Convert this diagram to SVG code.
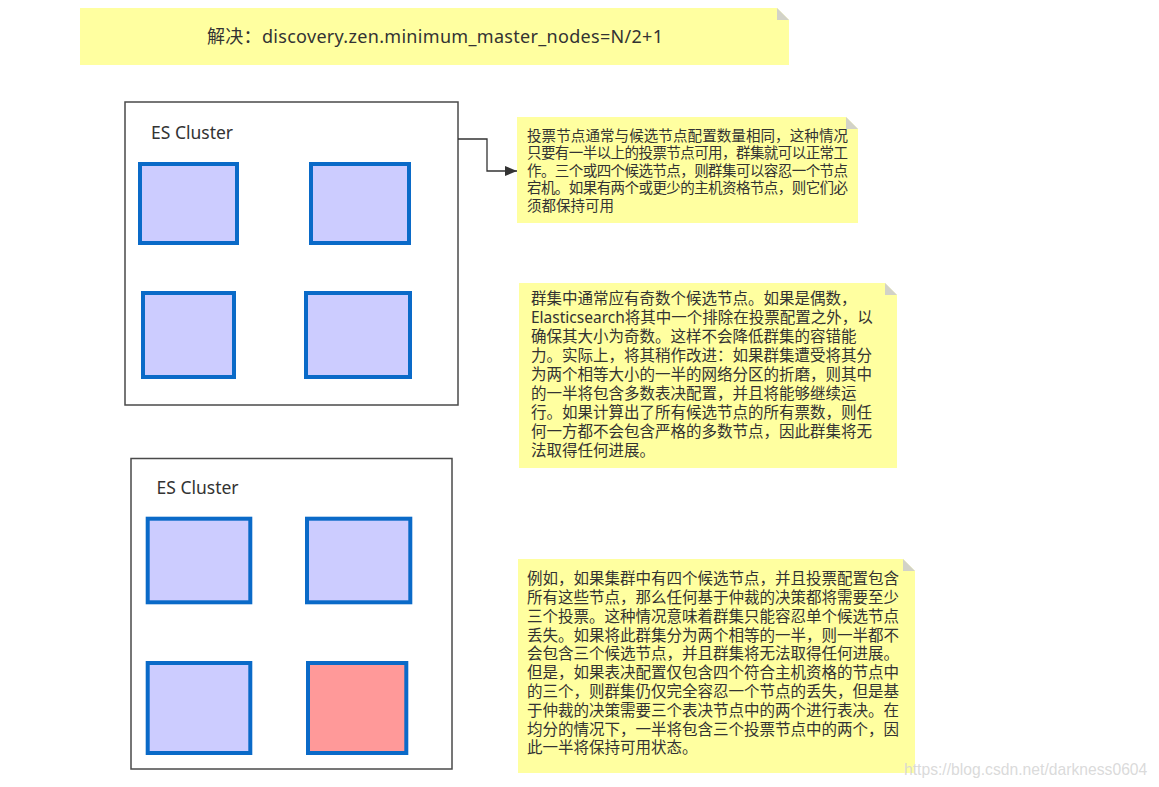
<svg xmlns="http://www.w3.org/2000/svg" width="1159" height="787" viewBox="0 0 1159 787">
<defs>
<style>
.note{fill:#ffffa0;stroke:none}
.fold{fill:#d2d2c8;stroke:none}
.cluster{fill:#ffffff;stroke:#4a4a4a;stroke-width:1.5}
.node{fill:#ccccff;stroke:#0a6ac8;stroke-width:4}
.node.down{fill:#ff9999}
.lbl{font-family:"Noto Sans","Noto Sans CJK SC",sans-serif;fill:#333333}
.t1{font-family:"Noto Sans","Noto Sans CJK SC",sans-serif;font-size:14.5px;fill:#333333}
.t2{font-family:"Noto Sans","Noto Sans CJK SC",sans-serif;font-size:15.5px;fill:#333333}
.conn{fill:none;stroke:#333333;stroke-width:1.3}
</style>
<marker id="arr" viewBox="0 0 12 10" refX="12" refY="5" markerWidth="12" markerHeight="10" markerUnits="userSpaceOnUse" orient="auto">
<path d="M0,0 L12,5 L0,10 Z" fill="#333333"/>
</marker>
</defs>
<rect width="1159" height="787" fill="#ffffff"/>

<g id="title-note">
<path class="note" d="M80,8 H777 L789,20 V65 H80 Z"/>
<path class="fold" d="M777,8 V20 H789 Z"/>
<text class="lbl" x="207" y="42.5" font-size="18" textLength="456" lengthAdjust="spacing">解决：discovery.zen.minimum_master_nodes=N/2+1</text>
</g>

<g id="cluster1">
<rect class="cluster" x="125" y="102" width="333" height="303"/>
<text class="lbl" x="151" y="139" font-size="17.5">ES Cluster</text>
</g>
<g id="c1-node1"><rect class="node" x="140" y="164" width="97" height="79"/></g>
<g id="c1-node2"><rect class="node" x="311" y="164" width="98" height="79"/></g>
<g id="c1-node3"><rect class="node" x="143" y="293" width="91" height="84"/></g>
<g id="c1-node4"><rect class="node" x="306" y="293" width="104" height="84"/></g>

<g id="cluster2">
<rect class="cluster" x="131" y="458.5" width="321" height="310.5"/>
<text class="lbl" x="156.5" y="494" font-size="17.5">ES Cluster</text>
</g>
<g id="c2-node1"><rect class="node" x="147.7" y="518.7" width="102.6" height="83.6"/></g>
<g id="c2-node2"><rect class="node" x="307" y="518.7" width="103.3" height="83.6"/></g>
<g id="c2-node3"><rect class="node" x="147.7" y="663" width="102.6" height="90"/></g>
<g id="c2-node4"><rect class="node down" x="308" y="663" width="98.3" height="90"/></g>

<g id="connectors">
<path class="conn" d="M458,139 H487 V171 H517" marker-end="url(#arr)"/>
</g>

<g id="note1">
<path class="note" d="M517,117 H846 L858,129 V223 H517 Z"/>
<path class="fold" d="M846,117 V129 H858 Z"/>
<text class="t1">
<tspan x="527" y="140.5" textLength="321" lengthAdjust="spacing">投票节点通常与候选节点配置数量相同，这种情况</tspan>
<tspan x="527" y="158" textLength="321" lengthAdjust="spacing">只要有一半以上的投票节点可用，群集就可以正常工</tspan>
<tspan x="527" y="175.5" textLength="321" lengthAdjust="spacing">作。三个或四个候选节点，则群集可以容忍一个节点</tspan>
<tspan x="527" y="193" textLength="321" lengthAdjust="spacing">宕机。如果有两个或更少的主机资格节点，则它们必</tspan>
<tspan x="527" y="210.5">须都保持可用</tspan>
</text>
</g>

<g id="note2">
<path class="note" d="M519,283 H885 L897,295 V468 H519 Z"/>
<path class="fold" d="M885,283 V295 H897 Z"/>
<text class="t2">
<tspan x="531" y="304.2">群集中通常应有奇数个候选节点。如果是偶数，</tspan>
<tspan x="531" y="323.2">Elasticsearch将其中一个排除在投票配置之外，以</tspan>
<tspan x="531" y="342.2">确保其大小为奇数。这样不会降低群集的容错能</tspan>
<tspan x="531" y="361.2">力。实际上，将其稍作改进：如果群集遭受将其分</tspan>
<tspan x="531" y="380.2">为两个相等大小的一半的网络分区的折磨，则其中</tspan>
<tspan x="531" y="399.2">的一半将包含多数表决配置，并且将能够继续运</tspan>
<tspan x="531" y="418.2">行。如果计算出了所有候选节点的所有票数，则任</tspan>
<tspan x="531" y="437.2">何一方都不会包含严格的多数节点，因此群集将无</tspan>
<tspan x="531" y="456.2">法取得任何进展。</tspan>
</text>
</g>

<g id="note3">
<path class="note" d="M518,559 H903 L915,571 V773 H518 Z"/>
<path class="fold" d="M903,559 V571 H915 Z"/>
<text class="t2">
<tspan x="527" y="584.2">例如，如果集群中有四个候选节点，并且投票配置包含</tspan>
<tspan x="527" y="603">所有这些节点，那么任何基于仲裁的决策都将需要至少</tspan>
<tspan x="527" y="621.8">三个投票。这种情况意味着群集只能容忍单个候选节点</tspan>
<tspan x="527" y="640.6">丢失。如果将此群集分为两个相等的一半，则一半都不</tspan>
<tspan x="527" y="659.4">会包含三个候选节点，并且群集将无法取得任何进展。</tspan>
<tspan x="527" y="678.2">但是，如果表决配置仅包含四个符合主机资格的节点中</tspan>
<tspan x="527" y="697">的三个，则群集仍仅完全容忍一个节点的丢失，但是基</tspan>
<tspan x="527" y="715.8">于仲裁的决策需要三个表决节点中的两个进行表决。在</tspan>
<tspan x="527" y="734.6">均分的情况下，一半将包含三个投票节点中的两个，因</tspan>
<tspan x="527" y="753.4">此一半将保持可用状态。</tspan>
</text>
</g>

<g id="watermark">
<text x="904" y="775" font-family="'Liberation Sans',Arial,sans-serif" font-size="15.7" fill="#d6d6d6" fill-opacity="0.9">https://blog.csdn.net/darkness0604</text>
</g>
</svg>
